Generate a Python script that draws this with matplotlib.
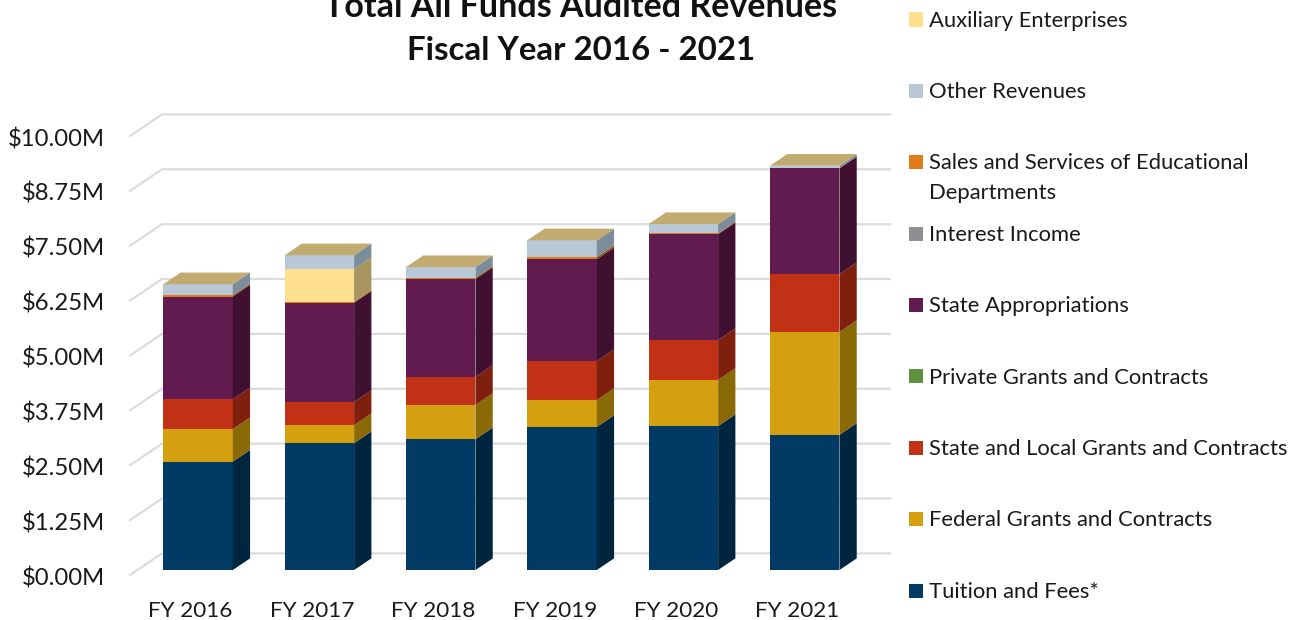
import matplotlib
matplotlib.use("Agg")
import matplotlib.pyplot as plt
from matplotlib.patches import Rectangle
from matplotlib.transforms import ScaledTranslation
import numpy as np

plt.rcParams['font.family'] = ['Lato', 'DejaVu Sans']

years = ["FY 2016", "FY 2017", "FY 2018", "FY 2019", "FY 2020", "FY 2021"]
tuition = [2.47, 2.89, 2.98, 3.26, 3.28, 3.08]
federal = [0.74, 0.41, 0.78, 0.61, 1.05, 2.34]
state_local = [0.68, 0.53, 0.64, 0.89, 0.91, 1.32]
private = [0, 0, 0, 0, 0, 0]
appropriations = [2.34, 2.26, 2.23, 2.32, 2.41, 2.41]
interest = [0, 0, 0, 0, 0, 0]
sales = [0.03, 0.02, 0.03, 0.05, 0.02, 0.01]
other = [0.25, 0.31, 0.24, 0.38, 0.21, 0.05]
auxiliary = [0, 0.75, 0, 0, 0, 0]

series_names = ["Tuition and Fees*", "Federal Grants and Contracts",
                "State and Local Grants and Contracts", "Private Grants and Contracts",
                "State Appropriations", "Interest Income",
                "Sales and Services of Educational\nDepartments", "Other Revenues",
                "Auxiliary Enterprises"]
series_values = [tuition, federal, state_local, private, appropriations,
                 interest, sales, auxiliary, other]
colors_by_series = [("#023A66", "#00263F"), ("#D5A00F", "#8A6A07"), ("#C03116", "#7F200E"),
                    ("#5F8F3F", "#3E5E29"), ("#621B4E", "#3F1030"), ("#8E8E93", "#5E5E62"),
                    ("#E07B1A", "#93500F"), ("#FFE08E", "#A99560"), ("#B8C8D7", "#7B8C9A")]
legend_colors = ["#023A66", "#D5A00F", "#C03116", "#5F8F3F", "#621B4E", "#8E8E93",
                 "#E07B1A", "#B8C8D7", "#FFE08E"]
top_color = "#C2AB70"
tick_values = [0, 1.25, 2.5, 3.75, 5, 6.25, 7.5, 8.75, 10]
tick_labels = ["$0.00M", "$1.25M", "$2.50M", "$3.75M", "$5.00M", "$6.25M", "$7.50M", "$8.75M", "$10.00M"]

W, H = 1296, 620
fig = plt.figure(figsize=(W / 100, H / 100), dpi=100)
ax = fig.add_axes([130 / W, 1 - 575 / H, 760 / W, 439 / H])

DX = 32 / 121.3
DY = 21.6 / 43.9
D0, D1 = 0.23, 0.77
BW = 69.5 / 121.3
ax.set_xlim(-0.5, 5.5 + DX)
ax.set_ylim(0, 10)

grid = "#DCDCDC"
for v in tick_values:
    ax.plot([-0.5, -0.5 + DX, 5.5 + DX], [v, v + DY, v + DY], color=grid, lw=1.6,
            zorder=1, clip_on=False, solid_joinstyle="miter")

x = np.arange(len(years))
for i in x:
    base = 0.0
    left = i - BW / 2 + D0 * DX
    right = left + BW
    depth_x = (D1 - D0) * DX
    depth_y = (D1 - D0) * DY
    for vals, (front, side) in zip(series_values, colors_by_series):
        h = vals[i]
        if h <= 0:
            continue
        ax.bar(left + BW / 2, h, width=BW, bottom=base + D0 * DY, color=front, lw=0, zorder=3)
        ax.fill([right, right + depth_x, right + depth_x, right],
                [base + D0 * DY, base + D0 * DY + depth_y, base + h + D0 * DY + depth_y, base + h + D0 * DY],
                color=side, lw=0, zorder=3)
        base += h
    ytop = base + D0 * DY
    ax.fill([left, right, right + depth_x, left + depth_x],
            [ytop, ytop, ytop + depth_y, ytop + depth_y],
            color=top_color, lw=0, zorder=4)

for s in ax.spines.values():
    s.set_visible(False)
ax.patch.set_visible(False)
ax.set_xticks(x)
ax.set_xticklabels(years, fontsize=16.2, color="#1a1a1a")
ax.set_yticks(tick_values)
ax.set_yticklabels(tick_labels, fontsize=17.2, color="#1a1a1a")
ax.tick_params(axis="both", length=0)
ax.tick_params(axis="x", pad=18.5)
ax.tick_params(axis="y", pad=18)
shift = ScaledTranslation(0, -0.8 / 72, fig.dpi_scale_trans)
for lab in ax.get_yticklabels():
    lab.set_transform(lab.get_transform() + shift)

fig.text(581 / W, 1 - 7 / H, "Total All Funds Audited Revenues", ha="center", va="center",
         fontsize=24.5, fontweight="bold", color="#111111")
fig.text(581 / W, 1 - 50 / H, "Fiscal Year 2016 - 2021", ha="center", va="center",
         fontsize=23.8, fontweight="bold", color="#111111")

ys = [590.5, 519, 447.5, 376, 304.5, 233.5, 161.5, 90.5, 19.5]
for name, col, y in zip(series_names, legend_colors, ys):
    fig.add_artist(Rectangle((909 / W, 1 - (y + 7) / H), 14 / W, 14 / H, color=col, lw=0,
                             transform=fig.transFigure))
    line_y = y + 1.5
    for line in name.split("\n"):
        fig.text(929 / W, 1 - line_y / H, line, ha="left", va="center", fontsize=15.85,
                 color="#1a1a1a")
        line_y += 30

fig.savefig("out.png", dpi=100)
